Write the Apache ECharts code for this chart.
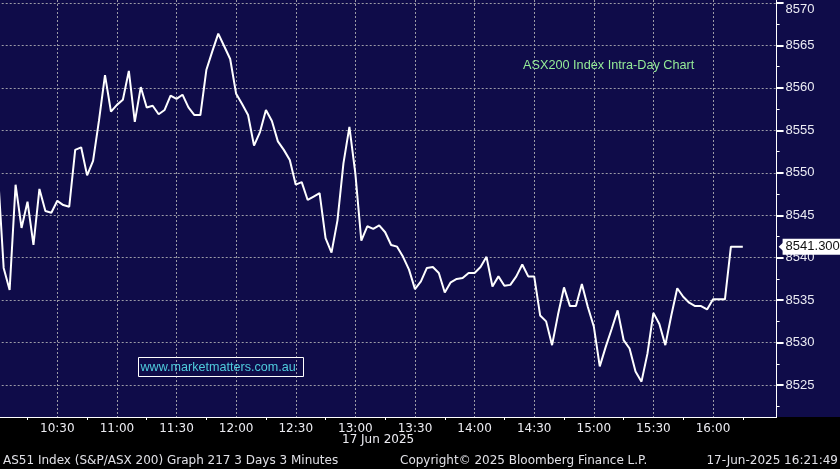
<!DOCTYPE html>
<html><head><meta charset="utf-8">
<script src="https://cdn.jsdelivr.net/npm/echarts@6/dist/echarts.min.js"></script>
<style>html,body{margin:0;padding:0;background:#000;overflow:hidden}#c{width:840px;height:469px}</style>
</head><body><div id="c"></div>
<script>
// ---- data (3-minute closes, 17 Jun 2025) ----
const times = [
 '10:00','10:03','10:06','10:09','10:12','10:15','10:18','10:21','10:24','10:27',
 '10:30','10:33','10:36','10:39','10:42','10:45','10:48','10:51','10:54','10:57',
 '11:00','11:03','11:06','11:09','11:12','11:15','11:18','11:21','11:24','11:27',
 '11:30','11:33','11:36','11:39','11:42','11:45','11:48','11:51','11:54','11:57',
 '12:00','12:03','12:06','12:09','12:12','12:15','12:18','12:21','12:24','12:27',
 '12:30','12:33','12:36','12:39','12:42','12:45','12:48','12:51','12:54','12:57',
 '13:00','13:03','13:06','13:09','13:12','13:15','13:18','13:21','13:24','13:27',
 '13:30','13:33','13:36','13:39','13:42','13:45','13:48','13:51','13:54','13:57',
 '14:00','14:03','14:06','14:09','14:12','14:15','14:18','14:21','14:24','14:27',
 '14:30','14:33','14:36','14:39','14:42','14:45','14:48','14:51','14:54','14:57',
 '15:00','15:03','15:06','15:09','15:12','15:15','15:18','15:21','15:24','15:27',
 '15:30','15:33','15:36','15:39','15:42','15:45','15:48','15:51','15:54','15:57',
 '16:00','16:03','16:06','16:09','16:12','16:15'
];
const values = [
 8550.4,8538.8,8536.2,8548.6,8543.5,8546.6,8541.5,8548.1,8545.5,8545.3,
 8546.7,8546.2,8546.0,8552.7,8553.0,8549.7,8551.4,8556.2,8561.5,8557.2,
 8558.0,8558.6,8562.0,8556.0,8560.1,8557.7,8557.9,8556.9,8557.4,8559.1,
 8558.7,8559.2,8557.7,8556.8,8556.8,8562.1,8564.3,8566.4,8564.9,8563.4,
 8559.3,8558.1,8556.8,8553.2,8554.8,8557.4,8556.1,8553.7,8552.7,8551.5,
 8548.6,8548.9,8546.8,8547.2,8547.6,8542.3,8540.6,8544.4,8551.1,8555.4,
 8549.9,8542.0,8543.7,8543.4,8543.8,8543.0,8541.5,8541.3,8540.1,8538.6,
 8536.3,8537.2,8538.8,8538.9,8538.2,8535.9,8537.1,8537.5,8537.6,8538.2,
 8538.2,8538.9,8540.1,8536.6,8537.8,8536.7,8536.8,8537.8,8539.2,8537.8,
 8537.8,8533.2,8532.5,8529.7,8533.3,8536.5,8534.3,8534.3,8536.9,8534.2,
 8531.9,8527.2,8529.5,8531.6,8533.8,8530.3,8529.3,8526.6,8525.4,8528.7,
 8533.5,8532.2,8529.7,8533.2,8536.4,8535.4,8534.7,8534.3,8534.3,8533.9,
 8535.1,8535.1,8535.1,8541.3,8541.3,8541.3
];
const lastPrice = 8541.3;
const chartTitle = 'ASX200 Index Intra-Day Chart';
const watermark = 'www.marketmatters.com.au';
const dateLabel = '17 Jun 2025';
const footerLeft = 'AS51 Index (S&P/ASX 200) Graph 217 3 Days 3 Minutes';
const footerMid = 'Copyright\u00a9 2025 Bloomberg Finance L.P.';
const footerRight = '17-Jun-2025 16:21:49';

// ---- helpers ----
function toMin(s){ const p = s.split(':'); return (+p[0]) * 60 + (+p[1]); }
function fmtTime(v){ const h = Math.floor(v / 60), m = Math.round(v % 60); return h + ':' + String(m).padStart(2, '0'); }
const seriesData = times.map((t, i) => [toMin(t), values[i]]);

const NAVY = '#0f0c49';
const GRIDC = '#9b9ba6';
const W = 840;
const X_MIN = 600, X_MAX = 992;       // data grid extent (minutes)
const PXM = 1.987;                    // px per minute
const GL = -2.3;                      // left edge (x of 10:00)
const rightFor = m => W - (GL + (m - X_MIN) * PXM);
const dotted = {color: GRIDC, width: 1, type: [2, 2]};
const gridBase = {left: GL, outerBoundsMode: 'none', containLabel: false};

const chart = echarts.init(document.getElementById('c'), null, {renderer: 'canvas'});
chart.setOption({
  backgroundColor: '#000',
  animation: false,
  grid: [
    Object.assign({}, gridBase, {right: rightFor(X_MAX), top: 0, bottom: 52}),   // data
    Object.assign({}, gridBase, {right: rightFor(X_MAX), top: 3, bottom: 41.5}), // price scale
    Object.assign({}, gridBase, {right: rightFor(960), top: 0, bottom: 52}),     // vertical grid lines
    Object.assign({}, gridBase, {right: rightFor(990), top: 0, bottom: 52})      // time labels
  ],
  xAxis: [
    {gridIndex: 0, type: 'value', min: X_MIN, max: X_MAX, z: 10,
     axisLine: {show: true, lineStyle: {color: '#ffffff', width: 1}},
     axisTick: {show: false}, axisLabel: {show: false}, splitLine: {show: false}},
    {gridIndex: 1, type: 'value', min: X_MIN, max: X_MAX, show: false},
    {gridIndex: 2, type: 'value', min: X_MIN, max: 960, interval: 30, z: 0,
     axisLine: {show: false}, axisTick: {show: false}, axisLabel: {show: false},
     splitLine: {show: true, lineStyle: dotted}},
    {gridIndex: 3, type: 'value', min: X_MIN, max: 990, interval: 30, z: 10,
     axisLine: {show: false}, axisTick: {show: false},
     minorTick: {show: true, splitNumber: 2, length: 3, lineStyle: {color: '#ffffff', width: 1}},
     axisLabel: {show: true, formatter: fmtTime, color: '#ececf2', fontFamily: 'DejaVu Sans', fontSize: 12,
                 margin: 6, showMinLabel: false, showMaxLabel: false},
     splitLine: {show: false}}
  ],
  yAxis: [
    {gridIndex: 0, type: 'value', min: 8521.237, max: 8570.353, position: 'right',
     axisLine: {show: true, lineStyle: {color: '#ffffff', width: 1}},
     axisTick: {show: false}, axisLabel: {show: false}, splitLine: {show: false}},
    {gridIndex: 1, type: 'value', min: 8520, max: 8570, interval: 5, position: 'right', z: 0,
     axisLine: {show: false},
     axisTick: {show: true, length: 7, lineStyle: {color: '#ffffff', width: 2}},
     minorTick: {show: true, splitNumber: 2, length: 3, lineStyle: {color: '#ffffff', width: 1}},
     axisLabel: {color: '#ececf4', fontFamily: 'Liberation Sans', fontSize: 13, margin: 9,
                 formatter: v => v === 8570 ? '{top|' + v + '}' : String(v),
                 rich: {top: {padding: [12, 0, 0, 0], color: '#ececf4', fontFamily: 'Liberation Sans', fontSize: 13}}},
     splitLine: {show: true, lineStyle: dotted}},
    {gridIndex: 2, type: 'value', min: 0, max: 1, show: false},
    {gridIndex: 3, type: 'value', min: 0, max: 1, show: false}
  ],
  series: [{
    type: 'line', xAxisIndex: 0, yAxisIndex: 0, data: seriesData,
    showSymbol: false, symbol: 'none', clip: true, z: 2,
    lineStyle: {color: '#ffffff', width: 2},
    markLine: {
      silent: true, symbol: 'none', animation: false,
      lineStyle: {color: 'rgba(0,0,0,0)', width: 1, type: 'solid'},
      data: [{yAxis: lastPrice}],
      label: {show: true, position: 'end', distance: 6,
              formatter: p => Number(p.value).toFixed(3),
              backgroundColor: '#ffffff', color: '#111111', fontFamily: 'Liberation Sans', fontSize: 13,
              padding: [2, 4, 1, 3], opacity: 1}
    },
    markPoint: {
      silent: true, animation: false,
      symbol: 'triangle', symbolRotate: 90, symbolSize: [11, 6], symbolOffset: [5, 0],
      itemStyle: {color: '#ffffff'}, label: {show: false},
      data: [{coord: [X_MAX, lastPrice]}]
    }
  }],
  graphic: [
    {type: 'rect', z: -10, silent: true, shape: {x: 0, y: 0, width: 840, height: 417}, style: {fill: NAVY}},
    {type: 'rect', z: 5, silent: true, shape: {x: 0, y: 418, width: 840, height: 51}, style: {fill: '#000'}},
    {type: 'text', z: 20, x: 523, y: 65, style: {text: chartTitle, fill: '#95ec98', font: '12.7px "Liberation Sans"', textVerticalAlign: 'middle'}},
    {type: 'rect', z: 20, silent: true, shape: {x: 138.5, y: 357.5, width: 165, height: 19}, style: {fill: 'none', stroke: '#ffffff', lineWidth: 1}},
    {type: 'text', z: 20, x: 140.5, y: 367.5, style: {text: watermark, fill: '#4fcbdc', font: '12.6px "Liberation Sans"', textVerticalAlign: 'middle'}},
    {type: 'text', z: 20, x: 342, y: 440, style: {text: dateLabel, fill: '#ececf2', font: '12px "DejaVu Sans"', textVerticalAlign: 'middle'}},
    {type: 'text', z: 20, x: 3, y: 461, style: {text: footerLeft, fill: '#e0e0e6', font: '12px "DejaVu Sans"', textVerticalAlign: 'middle'}},
    {type: 'text', z: 20, x: 400, y: 461, style: {text: footerMid, fill: '#e0e0e6', font: '12px "DejaVu Sans"', textVerticalAlign: 'middle'}},
    {type: 'text', z: 20, x: 838, y: 461, style: {text: footerRight, fill: '#e0e0e6', font: '12px "DejaVu Sans"', textAlign: 'right', textVerticalAlign: 'middle'}}
  ]
});
</script>
</body></html>
